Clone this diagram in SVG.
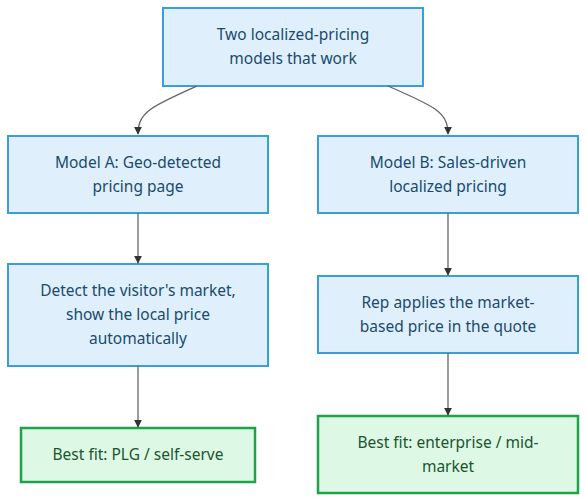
<svg xmlns="http://www.w3.org/2000/svg" width="586" height="502" viewBox="0 0 586 502">
<defs>
<style>
.b rect{fill:#dff0fc;stroke:#3a9fd6;stroke-width:2}
.g rect{fill:#ddf9e5;stroke:#1fa34a;stroke-width:2.5}
text{font-family:"Noto Sans","Open Sans",sans-serif;font-size:15.5px;text-anchor:middle}
.b text{fill:#1b4a6e}
.g text{fill:#1c5430}
.e path{fill:none;stroke:#666;stroke-width:1.3}
</style>
<marker id="ah" viewBox="0 0 10 10" refX="9" refY="5" markerWidth="8" markerHeight="8" markerUnits="userSpaceOnUse" orient="auto"><path d="M0,0 L10,5 L0,10 z" fill="#333"/></marker>
</defs>
<g id="top" class="b"><rect x="163" y="8" width="260" height="78"/><text x="293" y="40">Two localized-pricing</text><text x="293" y="64">models that work</text></g>
<g id="modelA" class="b"><rect x="8" y="136" width="260" height="77"/><text x="138" y="168">Model A: Geo-detected</text><text x="138" y="192">pricing page</text></g>
<g id="modelB" class="b"><rect x="318" y="136" width="260" height="77"/><text x="448" y="168">Model B: Sales-driven</text><text x="448" y="192">localized pricing</text></g>
<g id="detect" class="b"><rect x="8" y="264" width="260" height="102"/><text x="138" y="296">Detect the visitor's market,</text><text x="138" y="320">show the local price</text><text x="138" y="344">automatically</text></g>
<g id="rep" class="b"><rect x="318" y="276" width="260" height="77"/><text x="448" y="308">Rep applies the market-</text><text x="448" y="332">based price in the quote</text></g>
<g id="fitA" class="g"><rect x="21" y="428" width="234" height="54"/><text x="138" y="460">Best fit: PLG / self-serve</text></g>
<g id="fitB" class="g"><rect x="318" y="416" width="260" height="77"/><text x="448" y="448">Best fit: enterprise / mid-</text><text x="448" y="472">market</text></g>
<g id="edges" class="e">
<path d="M197,86 C152,106 138,112 138,134" marker-end="url(#ah)"/>
<path d="M388,86 C434,106 448,112 448,134" marker-end="url(#ah)"/>
<path d="M138,213 L138,263" marker-end="url(#ah)"/>
<path d="M138,366 L138,427" marker-end="url(#ah)"/>
<path d="M448,213 L448,275" marker-end="url(#ah)"/>
<path d="M448,353 L448,415" marker-end="url(#ah)"/>
</g>
</svg>
